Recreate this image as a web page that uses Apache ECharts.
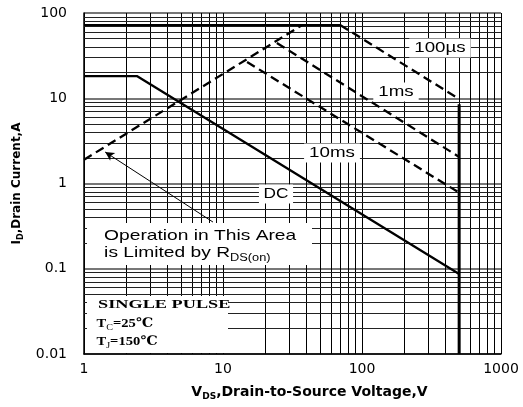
<!DOCTYPE html>
<html>
<head>
<meta charset="utf-8">
<script src="https://cdn.jsdelivr.net/npm/echarts@6/dist/echarts.min.js"></script>
<style>
  html, body { margin: 0; padding: 0; background: #fff; }
  #chart { width: 523px; height: 407px; }
</style>
</head>
<body>
<div id="chart"></div>
<script>
// safe operating area, log-log
const xMinorLines = [2, 3, 4, 5, 6, 7, 8, 9, 20, 30, 40, 50, 60, 70, 80, 90, 200, 300, 400, 500, 600, 700, 800, 900];
const yMinorLines = [0.02, 0.03, 0.04, 0.05, 0.06, 0.07, 0.08, 0.09, 0.2, 0.3, 0.4, 0.5, 0.6, 0.7, 0.8, 0.9,
  2, 3, 4, 5, 6, 7, 8, 9, 20, 30, 40, 50, 60, 70, 80, 90];

const currentLimit = [[1, 72], [70, 72]];
const pulse100us = [[70, 72], [500, 9.8]];
const pulse1ms = [[24.4, 44.5], [500, 2.05]];
const pulse10ms = [[14.9, 26.6], [500, 0.78]];
const rdsOnLimit = [[1, 1.9], [37, 72]];
const dcLimit = [[1, 18.2], [2.4, 18.2], [500, 0.087]];
const bvdssLimit = [[500, 8.5], [500, 0.01]];
const arrowLine = [[8.47, 0.353], [1.42, 2.34]];

const SANS = '"Liberation Sans", Arial, sans-serif';
const SERIF = '"Liberation Serif", "DejaVu Serif", serif';

const chart = echarts.init(document.getElementById('chart'));

function solid(name, data, width) {
  return {
    name: name, type: 'line', data: data, z: 20,
    symbol: 'none', silent: true, animation: false,
    lineStyle: { color: '#000', width: width || 2.3, type: 'solid' },
  };
}

function dashed(name, data) {
  return {
    name: name, type: 'line', data: data, z: 20,
    symbol: 'none', silent: true, animation: false,
    lineStyle: { color: '#000', width: 2.3, type: [9, 5] },
  };
}

function label(text, x, y, opts) {
  opts = opts || {};
  return {
    type: 'text', x: x, y: y, z: 12,
    scaleX: opts.scaleX || 1.25,
    silent: true,
    style: {
      text: text,
      x: 0, y: 0,
      align: opts.align || 'center',
      verticalAlign: 'middle',
      font: opts.font || ('15px ' + SANS),
      fill: '#000',
      backgroundColor: opts.bg === false ? null : '#fff',
      padding: opts.padding || [2, 4],
      rich: opts.rich,
    },
  };
}

const subSans = { fontSize: 10, fontFamily: SANS, verticalAlign: 'bottom', lineHeight: 10 };
const mainSans = { fontSize: 15, fontFamily: SANS, lineHeight: 20 };
const subSerif = { fontSize: 9, fontFamily: SERIF, verticalAlign: 'bottom', lineHeight: 9 };
const mainSerif = { fontSize: 13, fontFamily: SERIF, fontWeight: 'bold', lineHeight: 17 };

chart.setOption({
  animation: false,
  backgroundColor: '#fff',
  grid: { left: 84, right: 22, top: 13, bottom: 53 },
  xAxis: {
    type: 'log', logBase: 10, min: 1, max: 1000,
    axisLine: { show: true, onZero: false, lineStyle: { color: '#000', width: 1.5 } },
    axisTick: { show: false },
    axisLabel: {
      color: '#000', fontFamily: 'DejaVu Sans', fontSize: 14, margin: 8,
      formatter: function(v) { return String(Math.round(v)); },
    },
    splitLine: { show: true, lineStyle: { color: '#000', width: 1 } },
    name: '{b|V}{s|DS}{b|,Drain-to-Source Voltage,V}',
    nameLocation: 'middle',
    nameGap: 29,
    nameTextStyle: {
      padding: [0, 0, 0, 34],
      rich: {
        b: { fontFamily: 'DejaVu Sans', fontWeight: 'bold', fontSize: 14, lineHeight: 18, color: '#000' },
        s: { fontFamily: 'DejaVu Sans', fontWeight: 'bold', fontSize: 9, lineHeight: 9, verticalAlign: 'bottom', color: '#000' },
      },
    },
  },
  yAxis: {
    type: 'log', logBase: 10, min: 0.01, max: 100,
    axisLine: { show: true, onZero: false, lineStyle: { color: '#000', width: 1.5 } },
    axisTick: { show: false },
    axisLabel: {
      color: '#000', fontFamily: 'DejaVu Sans', fontSize: 14, margin: 17,
      formatter: function(v) { return String(+v.toPrecision(3)); },
    },
    splitLine: { show: true, lineStyle: { color: '#777', width: 2 } },
    name: '{b|I}{s|D}{b|,Drain Current,A}',
    nameLocation: 'middle',
    nameGap: 57,
    nameTextStyle: {
      rich: {
        b: { fontFamily: 'DejaVu Sans', fontWeight: 'bold', fontSize: 12, lineHeight: 16, color: '#000' },
        s: { fontFamily: 'DejaVu Sans', fontWeight: 'bold', fontSize: 8, lineHeight: 8, verticalAlign: 'bottom', color: '#000' },
      },
    },
  },
  graphic: {
    elements: [
      label('100µs', 440, 48),
      label('1ms', 396, 92),
      label('10ms', 332, 153),
      label('DC', 276, 194, { scaleX: 1.15 }),
      { type: 'rect', z: 11, silent: true, shape: { x: 87, y: 223, width: 225, height: 42 }, style: { fill: '#fff' } },
      label('Operation in This Area', 99, 236, { align: 'left', scaleX: 1.28, bg: false, padding: 0 }),
      label('{m|is Limited by R}{s|DS(on)}', 99, 253, {
        align: 'left', scaleX: 1.28, bg: false, padding: 0,
        rich: { m: mainSans, s: subSans },
      }),
      { type: 'rect', z: 11, silent: true, shape: { x: 87, y: 296, width: 141, height: 57 }, style: { fill: '#fff' } },
      label('SINGLE PULSE', 92, 305, { align: 'left', scaleX: 1.52, bg: false, padding: 0, font: 'bold 12px ' + SERIF }),
      label('{m|T}{s|C}{m|=25℃}', 92, 324, {
        align: 'left', scaleX: 1.12, bg: false, padding: 0,
        rich: { m: mainSerif, s: subSerif },
      }),
      label('{m|T}{s|J}{m|=150℃}', 92, 342, {
        align: 'left', scaleX: 1.12, bg: false, padding: 0,
        rich: { m: mainSerif, s: subSerif },
      }),
    ],
  },
  series: [
    {
      name: 'grid', type: 'line', data: [[1, 0.01]], z: 1,
      symbol: 'none', silent: true, animation: false,
      lineStyle: { opacity: 0 },
      markLine: {
        z: 2,
        silent: true, symbol: 'none', animation: false,
        label: { show: false },
        lineStyle: { color: '#000', width: 1, type: 'solid' },
        data: xMinorLines.map(v => ({ xAxis: v }))
          .concat(yMinorLines.map(v => ({ yAxis: v, lineStyle: { color: '#222', width: 1, type: 'solid' } }))),
      },
    },
    {
      name: 'arrow', type: 'line', data: [], z: 15,
      symbol: 'none', silent: true, animation: false,
      markLine: {
        z: 15,
        silent: true, animation: false,
        symbol: ['none', 'arrow'], symbolSize: [7, 9],
        label: { show: false },
        lineStyle: { color: '#000', width: 1, type: 'solid' },
        data: [[{ coord: arrowLine[0] }, { coord: arrowLine[1] }]],
      },
    },
    solid('Current limit', currentLimit),
    dashed('100us', pulse100us),
    dashed('1ms', pulse1ms),
    dashed('10ms', pulse10ms),
    dashed('RDS(on)', rdsOnLimit),
    solid('DC', dcLimit),
    solid('BVDSS', bvdssLimit, 3),
  ],
});
</script>
</body>
</html>
